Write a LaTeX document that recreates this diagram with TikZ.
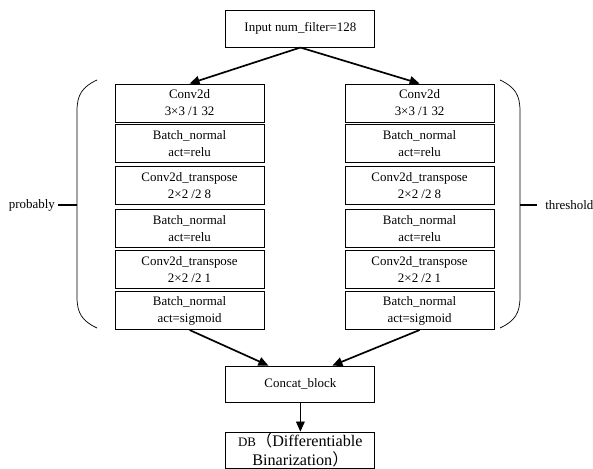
\documentclass[tikz,border=0pt]{standalone}
\usepackage{fontspec}
\setmainfont{Liberation Serif}
\newfontfamily\cjk{Noto Sans CJK SC}
\usetikzlibrary{positioning, arrows.meta}

\begin{document}
\begin{tikzpicture}[
    blk/.style={draw, rectangle, minimum width=3.725cm, minimum height=0.95cm, inner sep=0pt, align=center, line width=0.6pt, font=\fontsize{9.2}{12}\selectfont},
    flow/.style={line width=1.2pt, -{Triangle[length=2.5mm, width=2.2mm]}},
    brace/.style={line width=0.5pt},
    tick/.style={line width=1.2pt},
    side/.style={inner ysep=1pt, font=\fontsize{9.2}{12}\selectfont},
]
\useasboundingbox (0,0) rectangle (14.825,11.725);

% Input
\node[blk, minimum height=0.925cm] (input) at (7.51, 11.01) {Input num\_filter=128};

% probably branch
\node[blk] (p1) at (4.74, 9.15) {Conv2d\\3×3 /1 32};
\node[blk] (p2) at (4.74, 8.14) {Batch\_normal\\act=relu};
\node[blk] (p3) at (4.74, 7.08) {Conv2d\_transpose\\2×2 /2 8};
\node[blk] (p4) at (4.74, 6.01) {Batch\_normal\\act=relu};
\node[blk] (p5) at (4.74, 4.98) {Conv2d\_transpose\\2×2 /2 1};
\node[blk] (p6) at (4.74, 3.96) {Batch\_normal\\act=sigmoid};

% threshold branch
\node[blk] (t1) at (10.49, 9.15) {Conv2d\\3×3 /1 32};
\node[blk] (t2) at (10.49, 8.14) {Batch\_normal\\act=relu};
\node[blk] (t3) at (10.49, 7.08) {Conv2d\_transpose\\2×2 /2 8};
\node[blk] (t4) at (10.49, 6.01) {Batch\_normal\\act=relu};
\node[blk] (t5) at (10.49, 4.98) {Conv2d\_transpose\\2×2 /2 1};
\node[blk] (t6) at (10.49, 3.96) {Batch\_normal\\act=sigmoid};

% Output
\node[blk, minimum height=0.9cm] (concat) at (7.51, 2.125) {Concat\_block};
\node[blk, minimum height=0.9cm, font=\fontsize{11.5}{13}\selectfont] (db) at (7.51, 0.475)
    {{\fontsize{9.2}{12}\selectfont DB}{\cjk （}Differentiable\\Binarization{\cjk ）}};

% Braces
\draw[brace] (2.425, 9.725) .. controls (2.05, 9.55) and (1.925, 9.35) .. (1.925, 8.95)
    -- (1.925, 4.3) .. controls (1.925, 3.9) and (2.05, 3.7) .. (2.425, 3.525);
\draw[brace] (12.5, 9.725) .. controls (12.875, 9.55) and (13.0, 9.35) .. (13.0, 8.95)
    -- (13.0, 4.3) .. controls (13.0, 3.9) and (12.875, 3.7) .. (12.5, 3.525);
\coordinate (pmid) at (1.925, 6.6);
\coordinate (tmid) at (13.0, 6.6);
\node[side, inner xsep=2pt, anchor=east] (prob) at (1.45, 6.6) {probably};
\node[side, inner xsep=5.7pt, anchor=west] (thr) at (13.425, 6.6) {threshold};
\draw[tick] (prob) -- (pmid);
\draw[tick] (tmid) -- (thr);

% Arrows
\draw[flow] (input.south) -- (p1.north);
\draw[flow] (input.south) -- (t1.north);
\draw[flow] (p6.south) -- ([xshift=-0.8cm]concat.north);
\draw[flow] (t6.south) -- ([xshift=0.8cm]concat.north);
\draw[flow, line width=0.6pt] (concat) -- (db);
\end{tikzpicture}
\end{document}
